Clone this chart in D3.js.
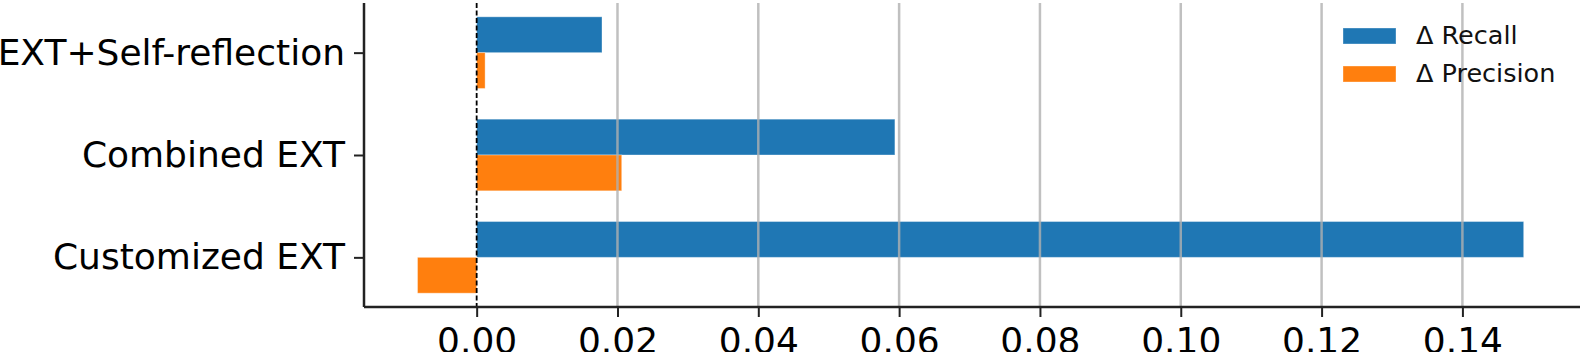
<!DOCTYPE html>
<html>
<head>
<meta charset="utf-8">
<script src="https://cdn.jsdelivr.net/npm/d3@7"></script>
<style>
  body { margin: 0; background: #fff; }
  svg { display: block; font-family: "DejaVu Sans", sans-serif; }
</style>
</head>
<body>
<svg width="1584" height="352"></svg>
<script>
// categories, bottom to top (matplotlib barh order)
var categories = ['Customized EXT', 'Combined EXT', 'EXT+Self-reflection']
var recall = [0.1487, 0.0594, 0.0178]
var precision = [-0.0084, 0.0206, 0.0012]
var xTicks = [0, 0.02, 0.04, 0.06, 0.08, 0.10, 0.12, 0.14]
var xDomain = [-0.016, 0.1567]
var series = [
  { name: '\u0394 Recall', values: recall, color: '#1f77b4', off: 1 },
  { name: '\u0394 Precision', values: precision, color: '#ff7f0e', off: 0 }
]

var svg = d3.select('svg')
  , x0 = 364, x1 = 1580, y0 = 3, y1 = 307
  , barH = 0.35

var x = d3.scaleLinear().domain(xDomain).range([x0, x1])
var y = d3.scaleLinear().domain([-0.485, categories.length - 1 + 0.485]).range([y1, y0])

// bars
series.forEach(function (s) {
  svg.append('g').selectAll('rect').data(s.values)
    .enter().append('rect')
    .attr('x', function (d) { return x(Math.min(0, d)) })
    .attr('width', function (d) { return Math.abs(x(d) - x(0)) })
    .attr('y', function (d, i) { return y(i + s.off * barH) })
    .attr('height', function (d, i) { return y(i - barH + s.off * barH) - y(i + s.off * barH) })
    .attr('fill', s.color)
    .attr('stroke', '#fff').attr('stroke-opacity', 0.35).attr('stroke-width', 1)
})

// grid on top of bars
svg.append('g').selectAll('line').data(xTicks.filter(function (d) { return d !== 0 }))
  .enter().append('line')
  .attr('x1', function (d) { return x(d) }).attr('x2', function (d) { return x(d) })
  .attr('y1', y0).attr('y2', y1)
  .attr('stroke', '#b0b0b0').attr('stroke-opacity', 0.8).attr('stroke-width', 2.5)

// dashed zero line
svg.append('line')
  .attr('x1', x(0)).attr('x2', x(0)).attr('y1', y0).attr('y2', y1)
  .attr('stroke', '#000').attr('stroke-width', 1.8).attr('stroke-dasharray', '5,2.5')

// x axis
var xAxis = svg.append('g').attr('transform', 'translate(0,' + y1 + ')')
  .call(d3.axisBottom(x).tickValues(xTicks).tickFormat(d3.format('.2f')).tickSize(10).tickPadding(10))
xAxis.select('.domain').attr('stroke', '#222').attr('stroke-width', 2.5).attr('d', 'M' + x0 + ',0H' + x1)
xAxis.selectAll('.tick line').attr('stroke', '#222').attr('stroke-width', 2)
xAxis.selectAll('.tick text').attr('font-size', 36).attr('fill', '#000').attr('font-family', 'DejaVu Sans')

// y axis
var yAxis = svg.append('g').attr('transform', 'translate(' + x0 + ',0)')
  .call(d3.axisLeft(y).tickValues(d3.range(categories.length))
    .tickFormat(function (i) { return categories[i] }).tickSize(10).tickPadding(9))
yAxis.select('.domain').attr('stroke', '#222').attr('stroke-width', 2.5).attr('d', 'M0,' + y0 + 'V' + y1)
yAxis.selectAll('.tick line').attr('stroke', '#222').attr('stroke-width', 2)
yAxis.selectAll('.tick text').attr('font-size', 36).attr('fill', '#000').attr('font-family', 'DejaVu Sans')

// legend
var lg = svg.append('g').attr('transform', 'translate(1343,28)')
series.forEach(function (s, i) {
  lg.append('rect').attr('x', 0).attr('y', i * 38).attr('width', 53).attr('height', 16)
    .attr('fill', s.color).attr('stroke', '#fff').attr('stroke-opacity', 0.35)
  lg.append('text').attr('x', 73).attr('y', i * 38 + 16).attr('font-size', 25.5)
    .attr('fill', '#111').text(s.name)
})
</script>
</body>
</html>
